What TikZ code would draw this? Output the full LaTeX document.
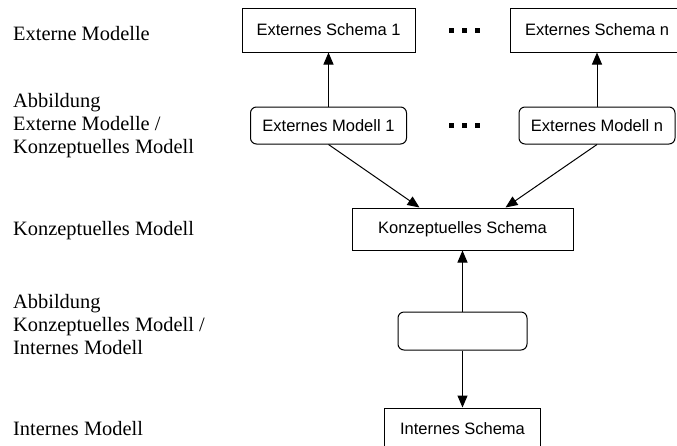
\documentclass[tikz,border=0pt]{standalone}
\usepackage{fontspec}
\setmainfont{Liberation Serif}
\newfontfamily\boxfont{Liberation Sans}
\usetikzlibrary{arrows.meta}
\begin{document}
\begin{tikzpicture}[x=1pt,y=-1pt,
  box/.style={draw, line width=1pt, font=\boxfont\fontsize{16.5}{19}\selectfont,
    inner sep=0pt, minimum height=44pt},
  schema/.style={box, minimum width=173pt},
  modell/.style={box, rounded corners=6pt, minimum width=156pt, minimum height=37pt},
  level/.style={anchor=base west, inner sep=0pt, align=left,
    font=\fontsize{20.4}{23}\selectfont},
  link/.style={line width=1pt, -{Triangle[length=12pt,width=10pt]}},
  sqdot/.style={fill, inner sep=0pt, minimum size=5pt}
]
\useasboundingbox (0,0) rectangle (677,445);

% level captions on the left (multi-line captions sit on their last baseline)
\node[level] (l1) at (13,40) {Externe Modelle};
\node[level] (l2) at (13,153) {Abbildung\\Externe Modelle /\\Konzeptuelles Modell};
\node[level] (l3) at (13,235) {Konzeptuelles Modell};
\node[level] (l4) at (13,354) {Abbildung\\Konzeptuelles Modell /\\Internes Modell};
\node[level] (l5) at (13,435) {Internes Modell};

% external level
\node[schema] (es1) at (328.5,30) {Externes Schema 1};
\node[schema] (esn) at (597,30) {Externes Schema n};
\node[modell] (em1) at (328.5,125.5) {Externes Modell 1};
\node[modell] (emn) at (597,125.5) {Externes Modell n};

% ellipsis between the first and the n-th view
\foreach \i/\x in {1/451.5,2/464.5,3/477} {
  \node[sqdot] (dt\i) at (\x,30.5) {};
  \node[sqdot] (db\i) at (\x,125.5) {};
}

% conceptual and internal level
\node[box, minimum width=221pt, minimum height=42pt] (ks) at (462.5,229) {Konzeptuelles Schema};
\node[modell, minimum width=129pt, minimum height=38pt] (map) at (462.5,331) {};
\node[box, minimum width=156pt, minimum height=42pt] (is) at (462.5,429) {Internes Schema};

% mappings
\draw[link] (em1.north) -- (es1.south);
\draw[link] (emn.north) -- (esn.south);
\draw[link] (em1.south) -- ([xshift=68pt]ks.north west);
\draw[link] (emn.south) -- ([xshift=-68pt]ks.north east);
\draw[link] (map.north) -- (ks.south);
\draw[link] (map.south) -- (is.north);
\end{tikzpicture}
\end{document}
